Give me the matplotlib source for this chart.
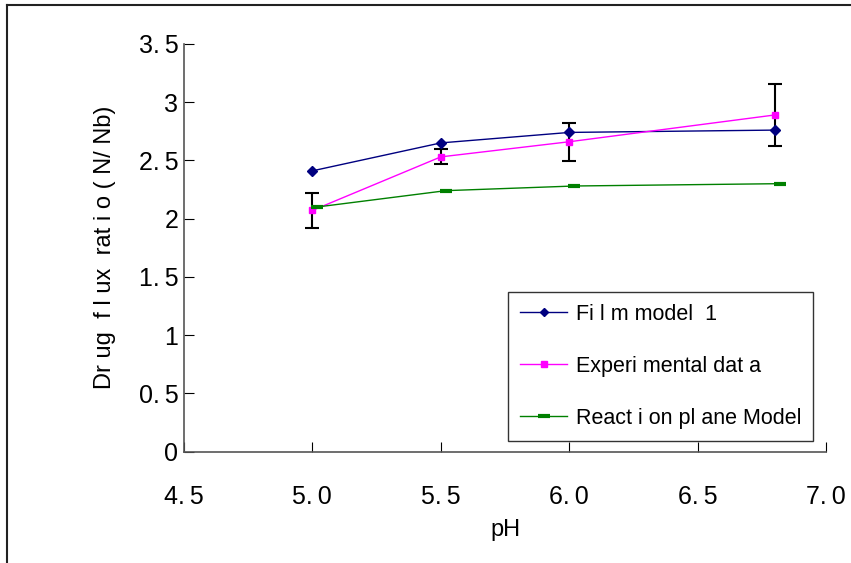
import numpy as np
import matplotlib
matplotlib.use('Agg')
from matplotlib import pyplot as plt
from matplotlib.lines import Line2D

plt.rcParams['font.family'] = ['Liberation Sans', 'DejaVu Sans']

# data
ph = [5.0, 5.5, 6.0, 6.8]
film_model = [2.41, 2.65, 2.74, 2.76]
experimental = [2.07, 2.53, 2.66, 2.89]
exp_err = [0.15, 0.065, 0.165, 0.27]
ph_reaction = [5.02, 5.52, 6.02, 6.82]
reaction_plane = [2.10, 2.24, 2.28, 2.30]

xticks = [4.5, 5.0, 5.5, 6.0, 6.5, 7.0]
xticklabels = ['4.\u20095', '5.\u20090', '5.\u20095', '6.\u20090', '6.\u20095', '7.\u20090']
yticks = [0, 0.5, 1, 1.5, 2, 2.5, 3, 3.5]
yticklabels = ['0', '0.\u20095', '1', '1.\u20095', '2', '2.\u20095', '3', '3.\u20095']

fig = plt.figure(figsize=(8.51, 5.63), dpi=100)
ax = fig.add_axes([0.216, 0.198, 0.755, 0.724])

ax.errorbar(ph, experimental, yerr=exp_err, fmt='none', ecolor='black',
            elinewidth=1.5, capsize=5, capthick=1.5, zorder=2)
ax.plot(ph, film_model, color='#000080', marker='D', markersize=5, lw=1,
        label='Fi l m model  1', zorder=3)
ax.plot(ph, experimental, color='#ff00ff', marker='s', markersize=5, lw=1,
        label='Experi mental dat a', zorder=3)
ax.plot(ph_reaction, reaction_plane, color='#008000', marker='_',
        markersize=9, markeredgewidth=3, lw=1, label='React i on pl ane Model',
        zorder=3)

ax.set_xlim(4.5, 7.0)
ax.set_ylim(0, 3.5)
ax.set_xticks(xticks)
ax.set_xticklabels(xticklabels)
ax.set_yticks(yticks)
ax.set_yticklabels(yticklabels)
ax.tick_params(direction='in', length=7, labelsize=18, colors='black')
ax.tick_params(axis='x', pad=24)
ax.tick_params(axis='y', pad=4)
for s in ['top', 'right']:
    ax.spines[s].set_visible(False)
for s in ['left', 'bottom']:
    ax.spines[s].set_color('#555555')
    ax.spines[s].set_linewidth(1.2)

ax.set_xlabel('pH', fontsize=17, labelpad=7)
ax.set_ylabel('Dr ug  f l ux  rat i o ( N/ Nb)', fontsize=17, labelpad=16)

leg = ax.legend(loc='upper left', bbox_to_anchor=(0.505, 0.392), fontsize=15.5,
                frameon=True, fancybox=False, edgecolor='black',
                borderaxespad=0, borderpad=0.55, labelspacing=1.45,
                handlelength=2.2, handletextpad=0.4, markerscale=0.9)
leg.get_frame().set_linewidth(1)

# outer frame around the picture
fig.add_artist(Line2D([7/851, 7/851], [0, 1 - 5/563], color='#222222', lw=1.5))
fig.add_artist(Line2D([7/851, 1], [1 - 5/563, 1 - 5/563], color='#222222', lw=1.5))

fig.savefig('out.png', dpi=100)
